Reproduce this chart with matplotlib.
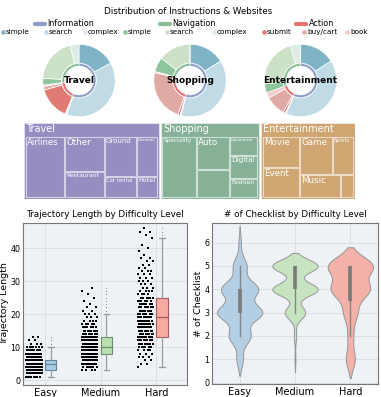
import numpy as np
import matplotlib.pyplot as plt
from matplotlib.patches import Rectangle
from matplotlib.textpath import TextPath
from matplotlib.font_manager import FontProperties

W, H = 381, 397

# ---------------- data ----------------
sites = ["Travel", "Shopping", "Entertainment"]
groups = ["Information", "Navigation", "Action"]
sub_labels = ["simple", "search", "complex", "simple", "search", "complex", "submit", "buy/cart", "book"]

# outer ring order (clockwise from top): info simple/search/complex, submit, buy/cart, book, nav simple/search/complex
travel_share = [17, 38.5, 0.8, 14.5, 1.5, 0.7, 3, 20, 4]
shopping_share = [16, 38, 0.5, 1, 23, 0.5, 6.5, 14.5, 0]
entertainment_share = [16, 40.5, 0.5, 1, 9, 2.5, 4, 22, 4.5]

# treemap: (label, count) leaves, nested lists alternate column / row splits
travel_tree = [("Airlines", 116),
               [("Other", 68), ("Restaurant", 51)],
               [[("Ground", 62), ("General", 42)], [("Car rental", 33), ("Hotel", 22)]]]
shopping_tree = [("Speciality", 104),
                 [("Auto", 53), ("", 45)],
                 [("Department", 27), ("Digital", 32), ("Fashion", 27)]]
entertainment_tree = [[("Movie", 57), ("Event", 55)],
                      [[("Game", 61), ("Sports", 40)], [("Music", 47), ("", 15)]]]

levels = ["Easy", "Medium", "Hard"]

# trajectory length: value -> number of tasks
easy_len = list(range(1, 14))
easy_len_n = [8, 25, 40, 45, 45, 45, 20, 15, 10, 7, 3, 2, 2]
medium_len = list(range(3, 29))
medium_len_n = [4, 6, 10, 14, 18, 22, 26, 26, 20, 18, 22, 10, 8, 6, 5, 4, 3, 3,
                 2, 2, 1, 1, 1, 1, 1, 1]
hard_len = list(range(4, 47))
hard_len_n = [1, 2, 2, 3, 3, 4, 6, 8, 9, 10, 8, 8, 8, 8, 8, 8, 7, 7, 7, 6, 6, 6,
              4, 4, 3, 3, 3, 3, 3, 3, 2, 2, 2, 2, 1, 1, 1, 1, 0, 1, 1, 2, 1]

# number of checklist items: value -> number of tasks
checklist = [1, 2, 3, 4, 5, 6]
easy_check_n = [14, 48, 100, 82, 30, 5]
medium_check_n = [2, 5, 45, 100, 100, 0]
hard_check_n = [20, 12, 30, 85, 100, 0]

# ---------------- colours ----------------
seg_colors = ["#7fb4c6", "#c0dbe5", "#e4e3f3",
              "#df7b73", "#e0aaa4", "#f2cccb",
              "#8fc59c", "#cde1c8", "#ddece4"]
group_colors = {"Information": "#8e9dc9", "Navigation": "#88bf96", "Action": "#e6716f"}
legend_sub_colors = ["#7fb4c6", "#c0dbe5", "#e4e3f3", "#8fc59c", "#cde1c8", "#ddece4",
                     "#df7b73", "#e0aaa4", "#f2cccb"]
site_colors = ["#978dc1", "#86b197", "#cfa571"]
box_fc = ["#a9cde4", "#b8e0b3", "#f7aba3"]
box_ec = ["#5f84a0", "#6b9068", "#a85a54"]
violin_fc = ["#b4cee3", "#c6e4c0", "#f3b1aa"]

fig = plt.figure(figsize=(W / 100, H / 100), dpi=100)


def px_axes(l, t, r, b):
    return fig.add_axes([l / W, 1 - b / H, (r - l) / W, (b - t) / H])


# ---------------- title + legend ----------------
lg = px_axes(0, 0, W, H)
lg.set_xlim(0, W)
lg.set_ylim(H, 0)
lg.axis("off")
lg.text(188, 11, "Distribution of Instructions & Websites", ha="center", va="center", fontsize=6.3)
head_x = [35, 160, 296]
for g, x in zip(groups, head_x):
    lg.plot([x, x + 10], [24, 24], color=group_colors[g], lw=3, solid_capstyle="round")
    lg.text(x + 12.5, 24, g, va="center", fontsize=5.8)
dot_x = [3, 46, 85, 125, 167, 214, 264, 304, 347]
for lab, x, c in zip(sub_labels, dot_x, legend_sub_colors):
    lg.plot([x], [32], "o", color=c, ms=2.3)
    lg.text(x + 3, 32, lab, va="center", fontsize=5.2)

# ---------------- donuts ----------------
centers = [79, 190, 300.5]
R = 36.2
for name, share, cx in zip(sites, [travel_share, shopping_share, entertainment_share], centers):
    ax = px_axes(cx - R, 80.5 - R, cx + R, 80.5 + R)
    ax.pie(share, colors=seg_colors, startangle=90, counterclock=False, radius=1,
           wedgeprops=dict(width=0.52, edgecolor="white", linewidth=0.5))
    inner = [sum(share[0:3]), sum(share[3:6]), sum(share[6:9])]
    ax.pie(inner, colors=[group_colors["Information"], group_colors["Action"], group_colors["Navigation"]],
           startangle=90, counterclock=False, radius=0.47,
           wedgeprops=dict(width=0.07, edgecolor="white", linewidth=0.3))
    ax.set_xlim(-1, 1)
    ax.set_ylim(-1, 1)
    ax.text(0, 0, name, ha="center", va="center", fontsize=6.5, fontweight="bold")

# ---------------- treemap ----------------
tm = px_axes(24, 123, 355, 199)
TW, TH = 331, 76
tm.set_xlim(0, TW)
tm.set_ylim(TH, 0)
tm.axis("off")


def total(node):
    if isinstance(node, tuple):
        return node[1]
    return sum(total(c) for c in node)


def layout(node, x, y, w, h, depth, out):
    if isinstance(node, tuple):
        out.append((node[0], x, y, w, h))
        return
    s = sum(total(c) for c in node)
    pos = 0
    for c in node:
        t = total(c)
        if depth % 2 == 0:
            cw = w * t / s
            layout(c, x + pos, y, cw, h, depth + 1, out)
            pos += cw
        else:
            ch = h * t / s
            layout(c, x, y + pos, w, ch, depth + 1, out)
            pos += ch


def fit_size(label, w, base):
    if not label:
        return base
    fp = FontProperties(family="DejaVu Sans", size=base)
    tw = TextPath((0, 0), label, prop=fp).get_extents().width * 100 / 72
    return min(base, base * 0.86 * w / tw)


trees = [travel_tree, shopping_tree, entertainment_tree]
tots = [total(t) for t in trees]
gap = 1.5
x0 = 0
for name, tree, tot, col in zip(sites, trees, tots, site_colors):
    cw = (TW - 2 * gap) * tot / sum(tots)
    tm.add_patch(Rectangle((x0, 0), cw, TH, fc=col, ec=(1, 1, 1, 0.45), lw=0.8))
    tm.text(x0 + 2.5, 1.3, name, color="white", fontsize=7, va="top", ha="left")
    leaves = []
    layout(tree, x0 + 1.2, 13, cw - 2.4, TH - 14.2, 0, leaves)
    for lab, x, y, w, h in leaves:
        tm.add_patch(Rectangle((x + 0.6, y + 0.6), w - 1.2, h - 1.2, fc=col,
                               ec=(1, 1, 1, 0.6), lw=0.8))
        if lab:
            tm.text(x + 1.8, y + 2.0, lab, color="white", va="top", ha="left",
                    fontsize=fit_size(lab, w - 3, 6.3))
    x0 += cw + gap

# ---------------- trajectory length: strip + box ----------------
bg = "#eef1f6"
grid_c = "#d8dce4"
ax1 = px_axes(23, 223, 187, 385)
ax1.set_facecolor(bg)
len_data = [np.repeat(easy_len, easy_len_n), np.repeat(medium_len, medium_len_n),
            np.repeat(hard_len, hard_len_n)]
for i, d in enumerate(len_data):
    k = np.arange(len(d))
    jit = ((k * 0.618034) % 1.0 - 0.5) * 0.28
    ax1.scatter(i - 0.2 + jit, d, s=1.9, c="black", marker="s", lw=0, zorder=3)
bp = ax1.boxplot(len_data, positions=[0.1, 1.1, 2.1], widths=0.2, patch_artist=True,
                 whiskerprops=dict(color="#9a9a9a", lw=0.9),
                 capprops=dict(color="#9a9a9a", lw=0.9),
                 flierprops=dict(marker=".", ms=1.6, mfc="#888888", mec="none"),
                 zorder=3)
for i in range(3):
    bp["boxes"][i].set(facecolor=box_fc[i], edgecolor=box_ec[i], lw=0.8)
    bp["medians"][i].set(color=box_ec[i], lw=0.9)
ax1.set_xlim(-0.4, 2.55)
ax1.set_ylim(-1.5, 47.6)
ax1.set_xticks([0, 1, 2], levels, fontsize=7)
ax1.set_yticks([0, 10, 20, 30, 40])
ax1.tick_params(axis="y", labelsize=5.8, length=0, pad=2)
ax1.tick_params(axis="x", length=0, pad=2)
ax1.grid(True, color=grid_c, lw=0.6)
ax1.set_axisbelow(True)
ax1.set_ylabel("Trajectory Length", fontsize=6.8, labelpad=1)
ax1.set_title("Trajectory Length by Difficulty Level", fontsize=6.3, pad=4)
for s in ax1.spines.values():
    s.set_color("#777777")
    s.set_linewidth(0.8)

# ---------------- checklist: violins ----------------
ax2 = px_axes(212, 223, 378, 384)
ax2.set_facecolor(bg)
check_data = [np.repeat(checklist, n) for n in [easy_check_n, medium_check_n, hard_check_n]]
for i, d in enumerate(check_data):
    bw = d.std(ddof=1) * len(d) ** -0.2
    yy = np.linspace(d.min() - 2 * bw, d.max() + 2 * bw, 400)
    dens = np.exp(-0.5 * ((yy[:, None] - d[None, :]) / bw) ** 2).sum(axis=1)
    half = dens / dens.max() * 0.41
    ax2.fill_betweenx(yy, i - half, i + half, fc=violin_fc[i], ec="#959595", lw=0.7, zorder=2)
    q1, q3 = np.percentile(d, [25, 75])
    iqr = q3 - q1
    lo = d[d >= q1 - 1.5 * iqr].min()
    hi = d[d <= q3 + 1.5 * iqr].max()
    ax2.plot([i, i], [lo, hi], color="#858585", lw=1.0, zorder=3)
    ax2.plot([i, i], [q1, q3], color="#7a7a7a", lw=2.6, solid_capstyle="butt", zorder=3)
ax2.set_xlim(-0.5, 2.5)
ax2.set_ylim(-0.06, 6.84)
ax2.set_xticks([0, 1, 2], levels, fontsize=7)
ax2.set_yticks(range(7))
ax2.tick_params(axis="y", labelsize=5.8, length=0, pad=2)
ax2.tick_params(axis="x", length=0, pad=2)
ax2.grid(True, color=grid_c, lw=0.6)
ax2.set_axisbelow(True)
ax2.set_ylabel("# of Checklist", fontsize=6.8, labelpad=1)
ax2.set_title("# of Checklist by Difficulty Level", fontsize=6.3, pad=4)
for s in ax2.spines.values():
    s.set_color("#777777")
    s.set_linewidth(0.8)

fig.savefig("out.png", dpi=100)
